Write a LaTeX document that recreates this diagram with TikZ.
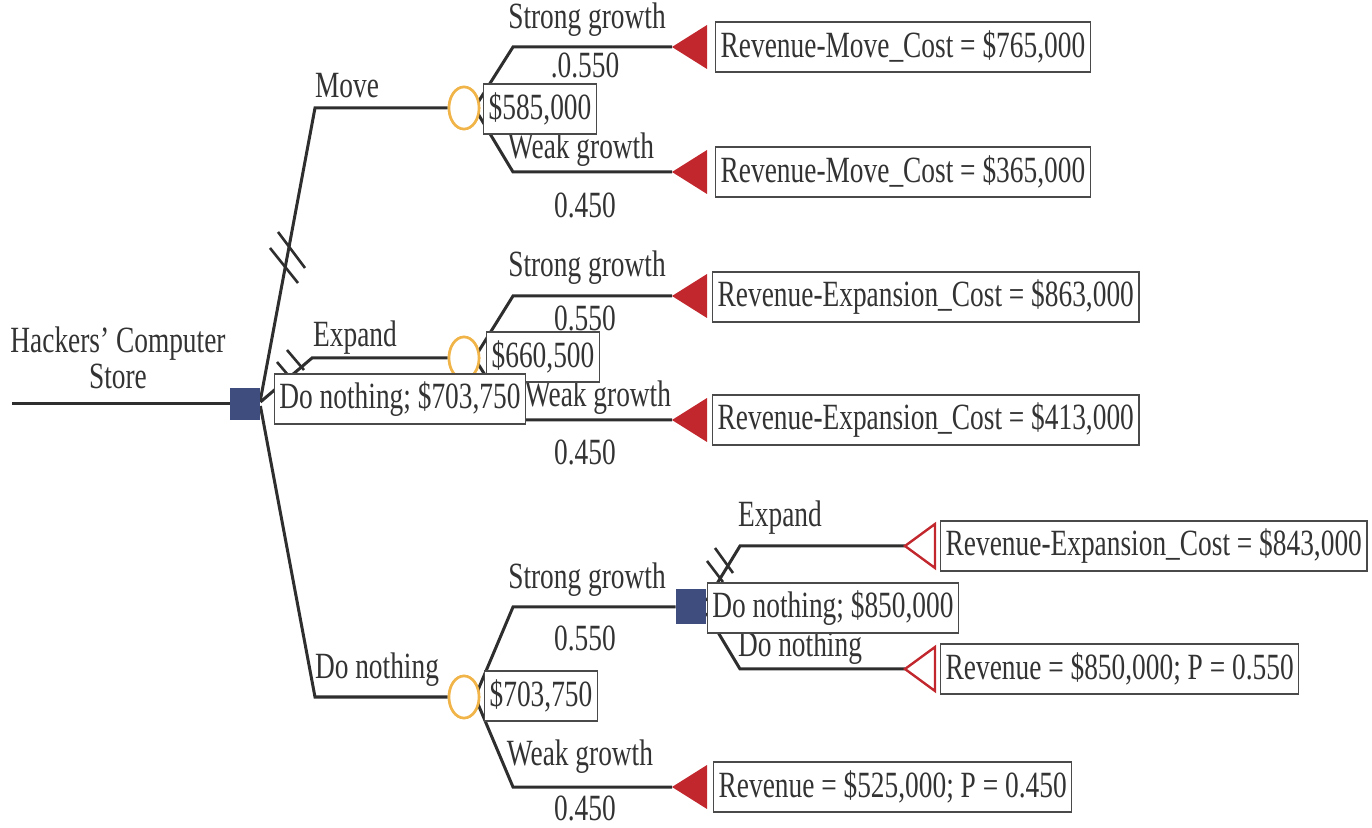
\documentclass[tikz,border=0pt]{standalone}
\usepackage{fontspec}
\setmainfont{Liberation Serif}[FakeStretch=0.74]
\usetikzlibrary{shapes.geometric}
\definecolor{linec}{HTML}{2E2E2E}
\definecolor{textc}{HTML}{333333}
\definecolor{boxc}{HTML}{4A4A4A}
\definecolor{decc}{HTML}{3E4C7E}
\definecolor{chc}{HTML}{F0B449}
\definecolor{endc}{HTML}{C1272D}
\tikzset{
  branch/.style={draw=linec, line width=1.5pt, line join=miter},
  lbl/.style={font=\fontsize{18.5}{18}\selectfont, inner sep=0pt, text=textc},
  valbox/.style={draw=boxc, fill=white, line width=0.7pt, font=\fontsize{18.5}{18}\selectfont,
    text=textc, inner xsep=2.5pt, inner ysep=0pt, minimum height=25pt},
  decnode/.style={rectangle, fill=decc, minimum width=15pt, minimum height=16pt, inner sep=0pt},
  chnode/.style={ellipse, draw=chc, line width=1.3pt, fill=white, minimum width=15pt, minimum height=21pt, inner sep=0pt},
  hatch/.style={draw=linec, line width=1.3pt},
  endfull/.style={fill=endc},
  endhollow/.style={draw=endc, fill=white, line width=1.2pt, line join=miter},
}
\begin{document}
\begin{tikzpicture}[x=0.5pt,y=-0.5pt]
\useasboundingbox (0,0) rectangle (1372,828);

% ---------- coordinates ----------
\coordinate (rootstart) at (12,404);
\coordinate (mvc) at (315,108);
\coordinate (exc) at (312,358);
\coordinate (dnc) at (315,697);
% chance branch corners
\coordinate (m1c) at (513,47);  \coordinate (m2c) at (513,172);
\coordinate (e1c) at (513,296); \coordinate (e2c) at (513,420);
\coordinate (d1c) at (513,607); \coordinate (d2c) at (513,787);
% inner decision corners
\coordinate (i1c) at (740,546); \coordinate (i2c) at (740,669);
% terminal tips
\coordinate (t1) at (672,47);  \coordinate (t2) at (672,172);
\coordinate (t3) at (672,296); \coordinate (t4) at (672,420);
\coordinate (t6) at (672,787);
\coordinate (t7) at (905,546); \coordinate (t8) at (905,669);

% ---------- nodes (decision / chance) ----------
\node[decnode] (root) at (245,404) {};
\node[chnode] (cm) at (464,108) {};
\node[chnode] (ce) at (464,358) {};
\node[chnode] (cd) at (464,697) {};
\node[decnode, minimum height=17.5pt] (dd) at (691,607) {};

% ---------- branches ----------
\draw[branch] (rootstart) -- (root.west);
\draw[branch] ([yshift=2pt]root.east) -- (mvc) -- (cm.west);
\draw[branch] ([yshift=1pt]root.east) -- (exc) -- (ce.west);
\draw[branch] ([yshift=-1pt]root.east) -- (dnc) -- (cd.west);

\draw[branch] ([shift={(-2pt,1.5pt)}]cm.east) -- (m1c) -- (t1);
\draw[branch] ([shift={(-2pt,-1.5pt)}]cm.east) -- (m2c) -- (t2);
\draw[branch] ([shift={(-2pt,1.5pt)}]ce.east) -- (e1c) -- (t3);
\draw[branch] ([shift={(-2pt,-1.5pt)}]ce.east) -- (e2c) -- (t4);
\draw[branch] ([shift={(-2pt,1.5pt)}]cd.east) -- (d1c) -- (dd.west);
\draw[branch] ([shift={(-2pt,-1.5pt)}]cd.east) -- (d2c) -- (t6);

\draw[branch] ([yshift=3pt]dd.east) -- (i1c) -- (t7);
\draw[branch] ([yshift=-3pt]dd.east) -- (i2c) -- (t8);

% redraw nodes on top of lines
\node[decnode] at (root) {};
\node[chnode] at (cm) {};
\node[chnode] at (ce) {};
\node[chnode] at (cd) {};
\node[decnode, minimum height=17.5pt] at (dd) {};

% ---------- hatch marks ----------
\draw[hatch] (278,232) -- (305,268);
\draw[hatch] (270,248) -- (298,283);
\draw[hatch] (287,350) -- (304,370);
\draw[hatch] (277,362) -- (294,382);
\draw[hatch] (715,548) -- (733,573);
\draw[hatch] (707,561) -- (723,582);

% ---------- terminal markers ----------
\foreach \t in {t1,t2,t3,t4,t6}{
  \fill[endfull] (\t) -- ++(35,-22) -- ++(0,44) -- cycle;
}
\foreach \t in {t7,t8}{
  \draw[endhollow] (\t) -- ++(30,-22) -- ++(0,44) -- cycle;
}

% ---------- labels ----------
\node[lbl, align=center] (title) at (118,358) {Hackers’ Computer\\Store};
\node[lbl] (lmove) at (347,86) {Move};
\node[lbl] (lexp) at (355,338) {Expand};
\node[lbl] (ldn) at (377,670) {Do nothing};

\node[lbl] (m1l) at (587,20) {Strong growth};
\node[lbl] (m1p) at (585,65) {.0.550};
\node[lbl] (m2l) at (581,150) {Weak growth};
\node[lbl] (m2p) at (585,205) {0.450};

\node[lbl] (e1l) at (587,268) {Strong growth};
\node[lbl] (e1p) at (585,318) {0.550};
\node[lbl] (e2l) at (598,398) {Weak growth};
\node[lbl] (e2p) at (585,452) {0.450};

\node[lbl] (d1l) at (587,580) {Strong growth};
\node[lbl] (d1p) at (585,638) {0.550};
\node[lbl] (d2l) at (580,757) {Weak growth};
\node[lbl] (d2p) at (585,808) {0.450};

\node[lbl] (i1l) at (780,518) {Expand};
\node[lbl] (i2l) at (800,648) {Do nothing};

% ---------- value boxes ----------
\node[valbox] (vm) at (540,109) {\$585,000};
\node[valbox] (ve) at (543,357) {\$660,500};
\node[valbox] (vd) at (541,696) {\$703,750};
\node[valbox] (vroot) at (400,399) {Do nothing; \$703,750};
\node[valbox] (vdd) at (833,608) {Do nothing; \$850,000};

% ---------- payoff boxes ----------
\node[valbox, anchor=west] (p1) at (715,47) {Revenue-Move\_Cost = \$765,000};
\node[valbox, anchor=west] (p2) at (715,172) {Revenue-Move\_Cost = \$365,000};
\node[valbox, anchor=west] (p3) at (712,297) {Revenue-Expansion\_Cost = \$863,000};
\node[valbox, anchor=west] (p4) at (712,420) {Revenue-Expansion\_Cost = \$413,000};
\node[valbox, anchor=west] (p6) at (713,787) {Revenue = \$525,000; P = 0.450};
\node[valbox, anchor=west] (p7) at (940,546) {Revenue-Expansion\_Cost = \$843,000};
\node[valbox, anchor=west] (p8) at (940,669) {Revenue = \$850,000; P = 0.550};
\end{tikzpicture}
\end{document}
